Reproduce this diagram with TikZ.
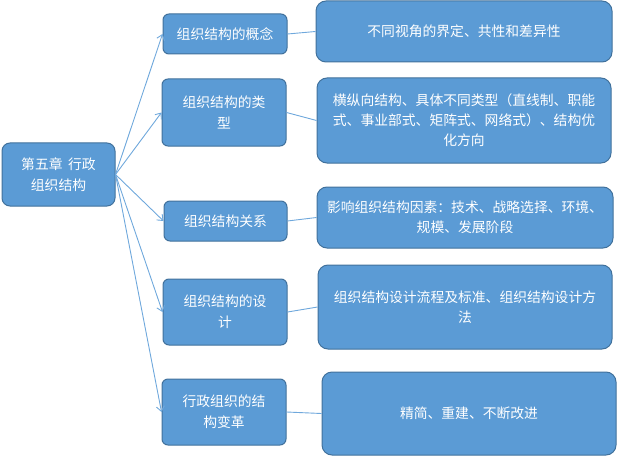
\documentclass[tikz,border=0pt]{standalone}
\usepackage{fontspec}
\setmainfont{Noto Sans CJK SC}
\usetikzlibrary{arrows.meta}
\definecolor{boxfill}{HTML}{5B9BD5}
\definecolor{boxline}{HTML}{41719C}
\definecolor{linkc}{HTML}{6FA8DC}
\tikzset{
  box/.style={draw=boxline, line width=1pt, fill=boxfill, text=white, align=center,
    inner sep=0pt, font=\fontsize{13.8}{21}\selectfont},
  midbox/.style={box, rounded corners=6pt},
  rbox/.style={box, rounded corners=10pt, font=\fontsize{13.8}{20}\selectfont},
  arr/.style={draw=linkc, line width=0.9pt, -{Straight Barb[length=5pt,width=8pt]}},
  lnk/.style={draw=linkc, line width=0.9pt},
}
\begin{document}
\begin{tikzpicture}[x=1pt,y=-1pt]
\useasboundingbox (0,0) rectangle (617,457);
\node[box, rounded corners=8pt, minimum width=113pt, minimum height=63pt] (root) at (58.5,174.5) {第五章\hspace{0.4em}行政\\组织结构};
\node[midbox, minimum width=124pt, minimum height=40pt] (m1) at (225,34) {组织结构的概念};
\node[midbox, minimum width=124pt, minimum height=67pt] (m2) at (224,112.5) {组织结构的类\\型};
\node[midbox, minimum width=123pt, minimum height=40pt] (m3) at (225.5,221) {组织结构关系};
\node[midbox, minimum width=124pt, minimum height=66pt] (m4) at (225,312) {组织结构的设\\计};
\node[midbox, minimum width=124pt, minimum height=66pt] (m5) at (224,412) {行政组织的结\\构变革};
\node[rbox, minimum width=296pt, minimum height=61pt] (r1) at (464,31.5) {不同视角的界定、共性和差异性};
\node[rbox, minimum width=294pt, minimum height=85pt] (r2) at (464,120.5) {横纵向结构、具体不同类型（直线制、职能\\式、事业部式、矩阵式、网络式）、结构优\\化方向};
\node[rbox, minimum width=296pt, minimum height=61pt] (r3) at (465,217.5) {影响组织结构因素：技术、战略选择、环境、\\规模、发展阶段};
\node[rbox, minimum width=294pt, minimum height=84pt] (r4) at (465,307) {组织结构设计流程及标准、组织结构设计方\\法};
\node[rbox, minimum width=294pt, minimum height=83pt] (r5) at (469,413.5) {精简、重建、不断改进};
\foreach \m in {m1,m2,m3,m4,m5} {\draw[arr] (root.east) -- (\m.west);}
\foreach \m/\r in {m1/r1,m2/r2,m3/r3,m4/r4,m5/r5} {\draw[lnk] (\m.east) -- (\r.west);}
\end{tikzpicture}
\end{document}
